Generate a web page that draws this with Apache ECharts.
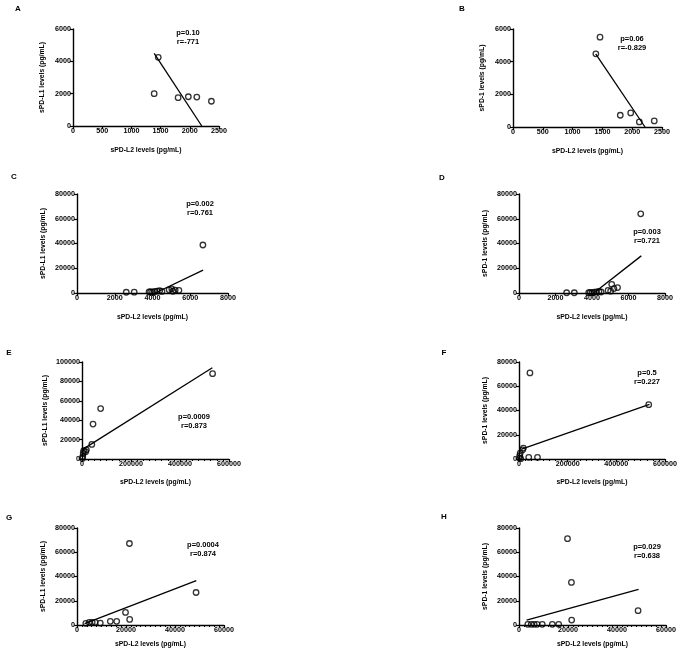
<!DOCTYPE html>
<html>
<head>
<meta charset="utf-8">
<script src="https://cdn.jsdelivr.net/npm/echarts@6/dist/echarts.min.js"></script>
<style>
  html, body { margin: 0; padding: 0; background: #fff; }
  #chart { width: 680px; height: 652px; }
</style>
</head>
<body>
<div id="chart"></div>
<script>
// sPD-L2 (x) against sPD-L1 / sPD-1 (y), one pair of arrays per panel row
const xAB = [1390, 1460, 1800, 1975, 2120, 2370];
const yA = [2000, 4250, 1750, 1810, 1790, 1530];
const yB = [4480, 5500, 720, 860, 310, 370];
const fitA = [[1390, 4490], [2205, 0]];
const fitB = [[1387, 4480], [2215, 0]];

const xCD = [2610, 3030, 3820, 3900, 4000, 4120, 4250, 4380, 4500, 4880, 5020, 5080, 5200, 5400, 6670];
const yC = [600, 700, 800, 1000, 700, 1200, 1500, 1800, 1300, 2600, 3400, 1400, 2400, 2200, 38800];
const yD = [200, 200, 300, 400, 200, 600, 900, 1200, 800, 2100, 1500, 7000, 3600, 4400, 64000];
const fitC = [[4150, 0], [6680, 18500]];
const fitD = [[4100, 0], [6700, 30000]];

const xEF = [1500, 3000, 5000, 7000, 15000, 18000, 40000, 45000, 76000, 533000];
const yE = [500, 2500, 6000, 8500, 7500, 9500, 15000, 36000, 52000, 88000];
const yF = [800, 2700, 4900, 300, 7600, 9000, 1400, 71000, 1400, 44800];
const fitE = [[1500, 9700], [532000, 94000]];
const fitF = [[10900, 8200], [536000, 45000]];

const xGH = [3600, 5000, 6200, 7400, 9500, 13600, 16200, 19800, 21400, 21500, 48600];
const yG = [1400, 2200, 2200, 2200, 1600, 3000, 3000, 10400, 67200, 4600, 26800];
const yH = [550, 550, 550, 550, 550, 550, 550, 71200, 35100, 4100, 11800];
const fitG = [[3100, 1100], [48700, 36600]];
const fitH = [[3100, 4100], [48800, 29300]];

const statsA = ['p=0.10', 'r=-771'];
const statsB = ['p=0.06', 'r=-0.829'];
const statsC = ['p=0.002', 'r=0.761'];
const statsD = ['p=0.003', 'r=0.721'];
const statsE = ['p=0.0009', 'r=0.873'];
const statsF = ['p=0.5', 'r=0.227'];
const statsG = ['p=0.0004', 'r=0.874'];
const statsH = ['p=0.029', 'r=0.638'];

const xName = 'sPD-L2 levels (pg/mL)';
const yNameL1 = 'sPD-L1 levels (pg/mL)';
const yNameP1 = 'sPD-1 levels (pg/mL)';

const FONT = 'Liberation Sans, Arial, sans-serif';

const panels = [
  { id: 'A', x: xAB, y: yA, fit: fitA, stats: statsA, yName: yNameL1,
    grid: [73, 29, 146, 97], xMax: 2500, xInt: 500, yMax: 6000, yInt: 2000,
    yGap: 27, xGap: 21, letter: [18, 9], note: [188, 33] },
  { id: 'B', x: xAB, y: yB, fit: fitB, stats: statsB, yName: yNameP1,
    grid: [513, 29, 149, 98], xMax: 2500, xInt: 500, yMax: 6000, yInt: 2000,
    yGap: 27, xGap: 21, letter: [462, 9], note: [632, 39] },
  { id: 'C', x: xCD, y: yC, fit: fitC, stats: statsC, yName: yNameL1,
    grid: [77, 194, 151, 99], xMax: 8000, xInt: 2000, yMax: 80000, yInt: 20000,
    yGap: 30, xGap: 21, letter: [14, 177], note: [200, 204] },
  { id: 'D', x: xCD, y: yD, fit: fitD, stats: statsD, yName: yNameP1,
    grid: [519, 194, 146, 99], xMax: 8000, xInt: 2000, yMax: 80000, yInt: 20000,
    yGap: 30, xGap: 21, letter: [442, 178], note: [647, 232] },
  { id: 'E', x: xEF, y: yE, fit: fitE, stats: statsE, yName: yNameL1,
    grid: [82, 362, 147, 97], xMax: 600000, xInt: 200000, yMax: 100000, yInt: 20000,
    yGap: 33, xGap: 20, letter: [9, 353], note: [194, 417], minor: 8 },
  { id: 'F', x: xEF, y: yF, fit: fitF, stats: statsF, yName: yNameP1,
    grid: [519, 362, 147, 97], xMax: 600000, xInt: 200000, yMax: 80000, yInt: 20000,
    yGap: 30, xGap: 20, letter: [444, 353], note: [647, 373], minor: 8 },
  { id: 'G', x: xGH, y: yG, fit: fitG, stats: statsG, yName: yNameL1,
    grid: [77, 528, 147, 97], xMax: 60000, xInt: 20000, yMax: 80000, yInt: 20000,
    yGap: 30, xGap: 15.5, letter: [9, 518], note: [203, 545], minor: 10 },
  { id: 'H', x: xGH, y: yH, fit: fitH, stats: statsH, yName: yNameP1,
    grid: [519, 528, 147, 97], xMax: 60000, xInt: 20000, yMax: 80000, yInt: 20000,
    yGap: 30, xGap: 16, letter: [444, 517], note: [647, 547], minor: 10 }
];

const labelStyle = { fontSize: 7.2, fontWeight: 'bold', color: '#000', fontFamily: FONT };
const nameStyle = { fontSize: 6.8, fontWeight: 'bold', color: '#000', fontFamily: FONT };

const grids = [], xAxes = [], yAxes = [], series = [], graphics = [];

panels.forEach((p, i) => {
  grids.push({ left: p.grid[0], top: p.grid[1], width: p.grid[2], height: p.grid[3] });
  const axisCommon = {
    gridIndex: i, type: 'value', min: 0,
    axisLine: { show: true, onZero: false, lineStyle: { color: '#000', width: 1.4 } },
    axisTick: { show: true, length: 3, lineStyle: { color: '#000', width: 1.2 } },
    splitLine: { show: false },
    axisLabel: Object.assign({ margin: 2, formatter: v => String(v) }, labelStyle),
    nameLocation: 'middle',
    nameTextStyle: nameStyle
  };
  xAxes.push(Object.assign({}, axisCommon, {
    max: p.xMax, interval: p.xInt, name: xName, nameGap: p.xGap,
    minorTick: { show: !!p.minor, splitNumber: p.minor || 5, length: 2, lineStyle: { color: '#000', width: 1 } }
  }));
  yAxes.push(Object.assign({}, axisCommon, {
    max: p.yMax, interval: p.yInt, name: p.yName, nameGap: p.yGap
  }));
  series.push({
    type: 'scatter', xAxisIndex: i, yAxisIndex: i, silent: true,
    symbol: 'circle', symbolSize: 5.5,
    itemStyle: { color: 'transparent', borderColor: '#000', borderWidth: 1.3 },
    data: p.x.map((v, k) => [v, p.y[k]])
  });
  series.push({
    type: 'line', xAxisIndex: i, yAxisIndex: i, silent: true,
    symbol: 'none', lineStyle: { color: '#000', width: 1.3 },
    data: p.fit
  });
  graphics.push({
    type: 'text', x: p.letter[0], y: p.letter[1],
    style: { text: p.id, font: 'bold 8px ' + FONT, fill: '#000', align: 'center', verticalAlign: 'middle' }
  });
  p.stats.forEach((s, k) => {
    graphics.push({
      type: 'text', x: p.note[0], y: p.note[1] + k * 9,
      style: { text: s, font: 'bold 7.5px ' + FONT, fill: '#000', align: 'center', verticalAlign: 'middle' }
    });
  });
});

const chart = echarts.init(document.getElementById('chart'), null, { renderer: 'canvas' });
chart.setOption({
  backgroundColor: '#fff',
  animation: false,
  grid: grids,
  xAxis: xAxes,
  yAxis: yAxes,
  series: series,
  graphic: graphics
});
</script>
</body>
</html>
